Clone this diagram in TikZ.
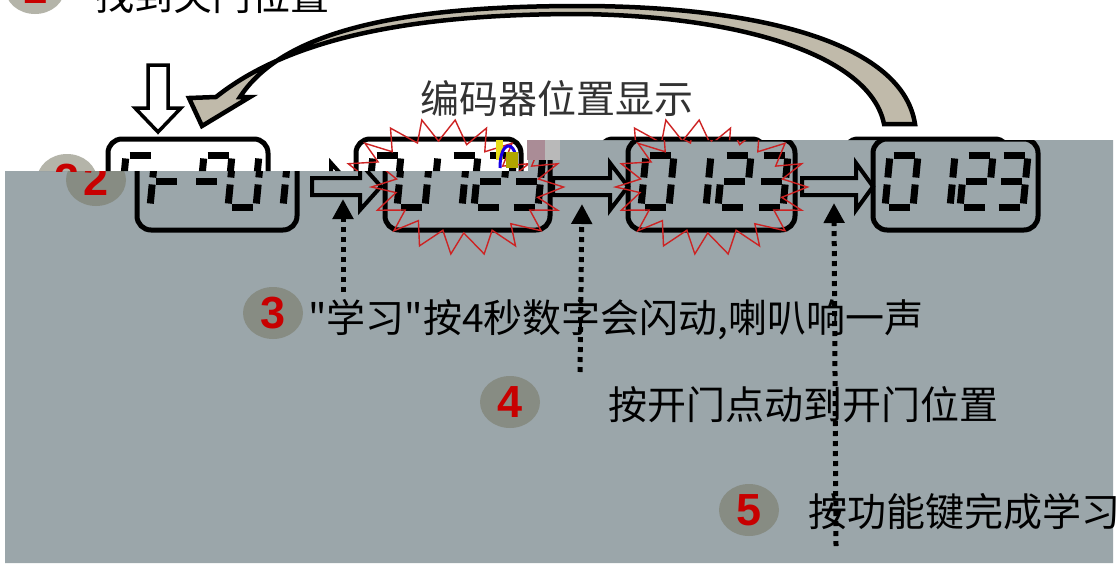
\documentclass[tikz,border=0pt]{standalone}
\usepackage{fontspec}
\newfontfamily\cjk{Noto Sans CJK SC}
\newfontfamily\numf{Liberation Sans}
\usetikzlibrary{shapes.geometric,arrows.meta}
\definecolor{bggray}{RGB}{155,166,170}
\definecolor{beigefill}{RGB}{192,186,170}
\definecolor{starred}{RGB}{205,35,35}
\definecolor{numred}{RGB}{200,0,0}
\definecolor{circol}{RGB}{120,120,100}
\definecolor{glitchpink}{RGB}{170,140,150}

\tikzset{
  seg/.style={line width=7pt, shorten <=3.5pt, shorten >=3.5pt},
  dispbox/.style={draw, line width=5pt, rounded corners=14pt, minimum width=#1, minimum height=91pt, inner sep=0pt},
  blockarr/.style={draw, line width=4pt, line join=miter},
  starline/.style={draw=starred, line width=1.4pt, line join=miter},
  dotarrow/.style={line width=5pt, dash pattern=on 5pt off 5pt, -{Triangle[width=20pt,length=20pt]}},
  numcirc/.style={ellipse, fill=circol, fill opacity=0.55, text opacity=1, minimum width=60pt, minimum height=52pt, inner sep=0pt, text=numred, font=\numf\bfseries\fontsize{45}{45}\selectfont},
  cjktext/.style={anchor=west, inner sep=0pt, font=\cjk\fontsize{39}{45}\selectfont},
}

% seven-segment pieces: #1 = left x, #2 = top y
\newcommand\segxa[2]{\draw[seg] (#1+5,#2) -- (#1+33,#2);}
\newcommand\segxb[2]{\draw[seg] (#1+33,#2) -- (#1+30.5,#2+26);}
\newcommand\segxc[2]{\draw[seg] (#1+30.5,#2+26) -- (#1+28,#2+52);}
\newcommand\segxd[2]{\draw[seg] (#1,#2+52) -- (#1+28,#2+52);}
\newcommand\segxe[2]{\draw[seg] (#1+2.5,#2+26) -- (#1,#2+52);}
\newcommand\segxf[2]{\draw[seg] (#1+5,#2) -- (#1+2.5,#2+26);}
\newcommand\segxg[2]{\draw[seg] (#1+2.5,#2+26) -- (#1+30.5,#2+26);}
\newcommand\dgt[3]{\foreach \s in {#3}{\csname segx\s\endcsname{#1}{#2}}}
\newcommand\dzero[1]{\dgt{#1}{155}{a,b,c,d,e,f}}
\newcommand\done[1]{\dgt{#1}{155}{b,c}}
\newcommand\dtwo[1]{\dgt{#1}{155}{a,b,g,e,d}}
\newcommand\dthree[1]{\dgt{#1}{155}{a,b,g,c,d}}

\newcommand\blockarrow[3]{\draw[blockarr] (#1,178) -- (#2,178) -- (#2,163) -- (#3,186.5) -- (#2,210) -- (#2,195) -- (#1,195) -- cycle;}
\newcommand\burst[2]{\draw[starline] (#1+96,#2) \foreach \i in {1,...,35}{ -- ({#1+ifthenelse(mod(\i,2)==0,96,72)*cos(\i*10+ifthenelse(mod(\i,4)==1,3,0))},{#2+ifthenelse(mod(\i,2)==0,68,46)*sin(\i*10+ifthenelse(mod(\i,4)==1,3,0))})} -- cycle;}

\newcommand\rowcontent{%
  \node[numcirc] (c2) at (96,180) {2};
  \node[dispbox=160pt] (b1) at (217,184.5) {};
  \node[dispbox=165pt] (b2) at (467.5,184.5) {};
  \node[dispbox=167pt] (b3) at (711.5,184.5) {};
  \node[dispbox=165pt] (b4) at (955.5,184.5) {};
  % box 1: F-01
  \dgt{150}{155}{a,f,g,e}
  \dgt{190}{155}{g}
  \dzero{228}
  \done{255}
  % box 2..4: 0 123
  \dzero{397}\done{434}\dtwo{474}\dthree{510}
  \dzero{641}\done{678}\dtwo{718}\dthree{755}
  \dzero{885}\done{922}\dtwo{960}\dthree{995}
  % block arrows
  \blockarrow{312}{360}{381}
  \blockarrow{553}{610}{628}
  \blockarrow{802}{856}{873}
  % bursts
  \burst{467.5}{187}
  \burst{711.5}{187}
}

\begin{document}
\begin{tikzpicture}[x=1pt,y=-1pt]
\useasboundingbox (0,0) rectangle (1116,563);
\clip (0,0) rectangle (1116,563);
\fill[white] (0,0) rectangle (1116,563);
% gray region
\fill[bggray] (5,171) -- (528,171) -- (528,140) -- (1113,140) -- (1113,563) -- (5,563) -- cycle;
\begin{scope}
  \clip (5,171) -- (528,171) -- (528,140) -- (1113,140) -- (1113,563) -- (5,563) -- cycle;
  \rowcontent
\end{scope}
\begin{scope}
  \clip (0,0) -- (1116,0) -- (1116,140) -- (528,140) -- (528,171) -- (0,171) -- cycle;
  \begin{scope}[xshift=-29pt]
    \rowcontent
  \end{scope}
\end{scope}
% glitch blocks
\fill[yellow!90!black] (496,140) rectangle (503,160);
\draw[blue!80!violet, line width=3pt] (500,168) .. controls (500,140) and (515,140) .. (516,160);
\fill[olive!70!yellow] (506,152) rectangle (518,168);
\fill[glitchpink] (527,140) rectangle (545,160);
\fill[gray!55] (545,140) rectangle (560,160);

% top: title, circle 1
\node[numcirc] (c1) at (35,-12) {1};
\node[cjktext] (title) at (95,-4) {找到关门位置};
% curved arrow
\filldraw[fill=beigefill, line width=4.5pt, line join=miter]
  (202,126) -- (189,98) -- (216,97)
  .. controls (300,30) and (440,14) .. (580,14)
  .. controls (740,16) and (870,55) .. (884,124)
  -- (915,124)
  .. controls (902,40) and (750,6) .. (580,6)
  .. controls (440,6) and (290,20) .. (240,97)
  -- (250,97) -- cycle;
% hollow down arrow
\filldraw[fill=white, line width=3.5pt, line join=miter]
  (148,65) -- (168,65) -- (168,108) -- (181,108) -- (158,132) -- (135,108) -- (148,108) -- cycle;
\node[cjktext, text=black!80] (lbl) at (420,99) {编码器位置显示};

% steps
\node[numcirc] (c3) at (273,313) {3};
\node[numcirc] (c4) at (510,402) {4};
\node[numcirc] (c5) at (749,510) {5};
\node[cjktext] (t3) at (308,320) {"学习"按4秒数字会闪动,喇叭响一声};
\node[cjktext] (t4) at (608,405) {按开门点动到开门位置};
\node[cjktext] (t5) at (808,512) {按功能键完成学习};

% dotted pointers
\coordinate (d1s) at (343,292); \coordinate (d1e) at (343,199);
\coordinate (d2s) at (580,372); \coordinate (d2e) at (582,204);
\coordinate (d3s) at (836,546); \coordinate (d3e) at (834,203);
\draw[dotarrow] (d1s) -- (d1e);
\draw[dotarrow] (d2s) -- (d2e);
\draw[dotarrow] (d3s) -- (d3e);
\end{tikzpicture}
\end{document}
